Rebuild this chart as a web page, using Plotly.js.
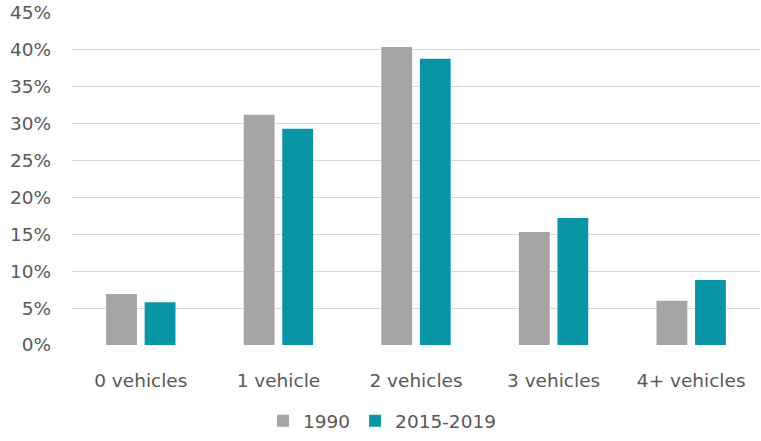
<!DOCTYPE html>
<html>
<head>
<meta charset="utf-8">
<script src="https://cdn.plot.ly/plotly-3.0.1.min.js"></script>
<style>html,body{margin:0;padding:0;background:#fff}#chart{width:761px;height:441px}</style>
</head>
<body>
<div id="chart"></div>
<script>
var categories = ["0 vehicles", "1 vehicle", "2 vehicles", "3 vehicles", "4+ vehicles"];
var series1990 = [0.069, 0.312, 0.404, 0.153, 0.060];
var series2015 = [0.058, 0.293, 0.388, 0.172, 0.088];
var seriesNames = ["1990", "2015-2019"];
var yTicks = [0, 0.05, 0.10, 0.15, 0.20, 0.25, 0.30, 0.35, 0.40, 0.45];

var font = {family: "DejaVu Sans, sans-serif", size: 18.5, color: "#595959"};

var data = [
  {type: "bar", name: seriesNames[0], x: categories, y: series1990, marker: {color: "#a5a5a5"}, hoverinfo: "skip"},
  {type: "bar", name: seriesNames[1], x: categories, y: series2015, marker: {color: "#0a95a5"}, hoverinfo: "skip"}
];

var layout = {
  width: 761, height: 441,
  margin: {l: 72, r: 1, t: 13, b: 96, autoexpand: false},
  paper_bgcolor: "#fff", plot_bgcolor: "#fff",
  font: font,
  barmode: "group", bargap: 0.44, bargroupgap: 0.2,
  showlegend: true,
  legend: {orientation: "h", x: 0.4506, xanchor: "center", yref: "container", y: 0.045, yanchor: "middle", font: font, traceorder: "normal"},
  xaxis: {type: "category", showgrid: false, zeroline: false, showline: false, ticks: "", ticklabelstandoff: 22, tickfont: font, fixedrange: true},
  yaxis: {range: [0, 0.45], tickvals: yTicks, tickformat: ".0%", showgrid: true, gridcolor: "#d9d9d9", gridwidth: 1,
          zeroline: false, showline: false, ticks: "", ticklabelstandoff: 20, tickfont: font, fixedrange: true}
};

Plotly.newPlot("chart", data, layout, {displayModeBar: false, staticPlot: true});
</script>
</body>
</html>
